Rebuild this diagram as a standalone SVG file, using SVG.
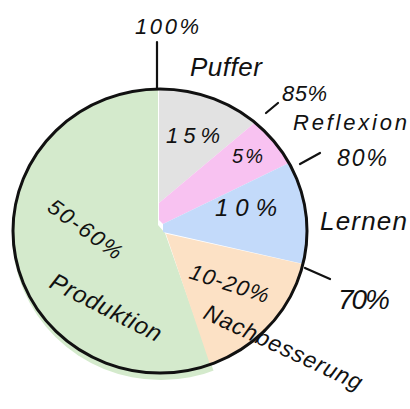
<svg xmlns="http://www.w3.org/2000/svg" width="410" height="409" viewBox="0 0 410 409">
<style>
.lbl{font-family:"Liberation Sans","DejaVu Sans",sans-serif;font-style:italic;fill:#111;}
.tick{stroke:#111;stroke-width:2.2;stroke-linecap:round;fill:none;}
</style>
<defs>
<clipPath id="pie"><ellipse cx="160" cy="231" rx="148" ry="143"/></clipPath>
<clipPath id="pieG"><ellipse cx="161" cy="234" rx="149" ry="146"/></clipPath>
</defs>
<rect width="410" height="409" fill="#fff"/>
<g id="slices">
<g id="slice-produktion" clip-path="url(#pieG)"><polygon points="158,60 158,225 165,233 214,372 200,400 0,400 0,60" fill="#d4eacc"/></g>
<g clip-path="url(#pie)">
<g id="slice-puffer"><polygon points="159,60 330,60 330,60 320,68 159,203" fill="#e2e2e2"/></g>
<g id="slice-reflexion"><polygon points="159,203 320,68 330,60 330,143 163,224 159,220" fill="#f8c2f1"/></g>
<g id="slice-lernen"><polygon points="163,224 330,143 330,270 163,232" fill="#c3dafa"/></g>
<g id="slice-nachbesserung"><polygon points="163,233 330,270 330,400 222,400 166,234" fill="#fce1c5"/></g>
</g>
</g>
<g id="outline"><ellipse cx="160" cy="231" rx="147" ry="142" fill="none" stroke="#111" stroke-width="3"/></g>
<g id="connectors">
<line class="tick" x1="157" y1="42" x2="157" y2="89"/>
<line class="tick" x1="266" y1="113" x2="278" y2="103"/>
<line class="tick" x1="300" y1="164" x2="320" y2="153"/>
<line class="tick" x1="305" y1="268" x2="330" y2="279"/>
</g>
<g id="labels">
<text class="lbl" x="135" y="34" font-size="22" textLength="64" lengthAdjust="spacing">100%</text>
<text class="lbl" x="190" y="76" font-size="26" textLength="72" lengthAdjust="spacing">Puffer</text>
<text class="lbl" x="282" y="101" font-size="22" textLength="45" lengthAdjust="spacing">85%</text>
<text class="lbl" x="293" y="130" font-size="22" textLength="114" lengthAdjust="spacing">Reflexion</text>
<text class="lbl" x="337" y="166" font-size="23" textLength="50" lengthAdjust="spacing">80%</text>
<text class="lbl" x="320" y="230" font-size="26" textLength="87" lengthAdjust="spacing">Lernen</text>
<text class="lbl" x="338" y="309" font-size="28" textLength="52" lengthAdjust="spacing">70%</text>
<text class="lbl" x="166" y="143" font-size="22" textLength="54" lengthAdjust="spacing">15%</text>
<text class="lbl" x="232" y="163" font-size="20" textLength="31" lengthAdjust="spacing">5%</text>
<text class="lbl" x="215" y="216" font-size="24" textLength="62" lengthAdjust="spacing">10%</text>
<text class="lbl" font-size="22" transform="translate(46,210) rotate(36)" textLength="86" lengthAdjust="spacing">50-60%</text>
<text class="lbl" font-size="24" transform="translate(48,287) rotate(27)" textLength="122" lengthAdjust="spacing">Produktion</text>
<text class="lbl" font-size="22" transform="translate(188,278) rotate(18)" textLength="82" lengthAdjust="spacing">10-20%</text>
<text class="lbl" font-size="23" transform="translate(202,318) rotate(25)" textLength="172" lengthAdjust="spacing">Nachbesserung</text>
</g>
</svg>
